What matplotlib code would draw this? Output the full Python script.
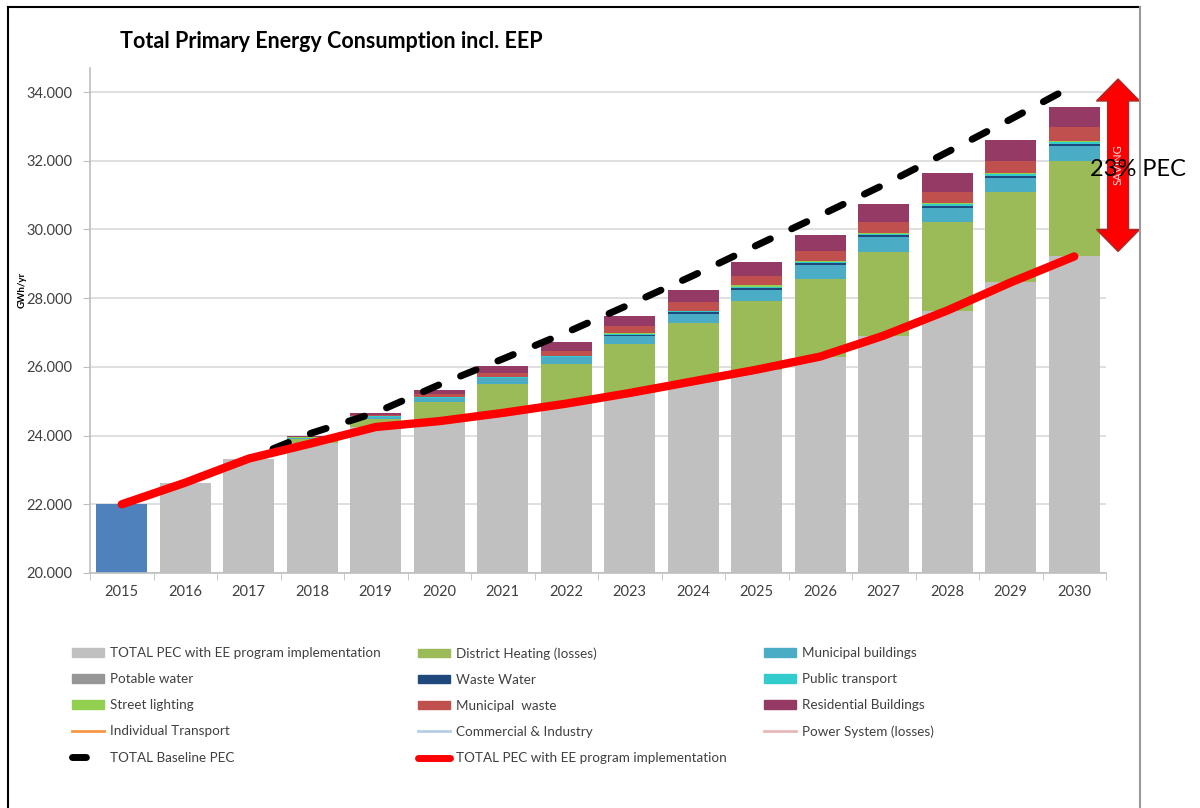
import matplotlib
matplotlib.use('Agg')
import matplotlib.pyplot as plt
import numpy as np
from matplotlib.patches import Patch, Polygon
from matplotlib.lines import Line2D

# ---------------- data ----------------
years = [2015, 2016, 2017, 2018, 2019, 2020, 2021, 2022,
         2023, 2024, 2025, 2026, 2027, 2028, 2029, 2030]
ee_total = [22000, 22630, 23330, 23780, 24250, 24420, 24660, 24930,
            25240, 25580, 25920, 26300, 26910, 27640, 28460, 29215]
district_heating = [0, 0, 0, 120, 230, 560, 850, 1140,
                    1440, 1700, 2010, 2270, 2440, 2580, 2630, 2785]
municipal_buildings = [0, 0, 0, 30, 60, 100, 155, 210,
                       225, 270, 300, 390, 420, 410, 400, 435]
potable_water = [0, 0, 0, 0, 0, 0, 0, 0, 0, 0, 0, 0, 0, 0, 0, 0]
waste_water = [0, 0, 0, 5, 15, 15, 15, 15, 30, 35, 55, 50, 55, 55, 65, 60]
public_transport = [0, 0, 0, 5, 15, 15, 15, 15, 30, 30, 50, 40, 45, 45, 55, 50]
street_lighting = [0, 0, 0, 5, 10, 10, 10, 10, 20, 25, 40, 30, 30, 30, 45, 35]
municipal_waste = [0, 0, 0, 15, 30, 85, 117, 155, 195, 255, 270, 290, 310, 345, 350, 400]
residential = [0, 0, 0, 20, 50, 115, 195, 262, 310, 340, 410, 480, 530, 540, 590, 585]
baseline = [22000, 22630, 23330, 24080, 24670, 25480, 26230, 27000,
            27820, 28660, 29540, 30410, 31300, 32250, 33210, 34200]
arrow_top, arrow_bottom = 34380, 29360
saving_text = "SAVING"
saving_label = "23% PEC"
title = "Total Primary Energy Consumption incl. EEP"
y_ticks = [20000, 22000, 24000, 26000, 28000, 30000, 32000, 34000]
y_tick_labels = ["20.000", "22.000", "24.000", "26.000", "28.000", "30.000", "32.000", "34.000"]

# ---------------- style ----------------
plt.rcParams['font.family'] = ['Lato', 'DejaVu Sans']
txt_col = '#404040'

fig = plt.figure(figsize=(12, 8.08), dpi=100)
W, H = 1200, 808
ax = fig.add_axes([90 / W, 1 - 573 / H, (1106 - 90) / W, (573 - 68) / H])

x = np.arange(len(years))
bw = 0.8
bar_colors = ['#4F81BD'] + ['#C0C0C0'] * (len(years) - 1)
ax.bar(x, ee_total, width=bw, color=bar_colors, zorder=2)

bottom = np.array(ee_total, dtype=float)
stack = [
    (district_heating, '#9BBB59'),
    (municipal_buildings, '#4BACC6'),
    (potable_water, '#969696'),
    (waste_water, '#1F497D'),
    (public_transport, '#33CCCC'),
    (street_lighting, '#92D050'),
    (municipal_waste, '#C0504D'),
    (residential, '#953A64'),
]
for vals, c in stack:
    v = np.array(vals, dtype=float)
    ax.bar(x, v, bottom=bottom, width=bw, color=c, zorder=2)
    bottom += v

ax.plot(x, baseline, color='black', lw=5, dashes=(2.4, 3.4),
        dash_capstyle='round', zorder=4)
ax.plot(x, ee_total, color='#FF0000', lw=6, solid_capstyle='round',
        solid_joinstyle='round', zorder=5)

ax.set_xlim(-0.5, len(years) - 0.5)
ax.set_ylim(20000, 34700)
ax.set_yticks(y_ticks)
ax.set_yticklabels(y_tick_labels, fontsize=10.5, color=txt_col)
ax.set_xticks(x)
ax.set_xticklabels([str(y) for y in years], fontsize=10.5, color=txt_col)
ax.set_xticks(np.arange(-0.5, len(years), 1.0), minor=True)
ax.tick_params(axis='x', which='major', length=0, pad=9)
ax.tick_params(axis='x', which='minor', length=5, color='#BFBFBF', direction='out')
ax.tick_params(axis='y', length=5, color='#BFBFBF', pad=8)
for s in ['top', 'right']:
    ax.spines[s].set_visible(False)
for s in ['left', 'bottom']:
    ax.spines[s].set_color('#BFBFBF')
    ax.spines[s].set_linewidth(1.2)
ax.yaxis.grid(True, color='#D9D9D9', lw=1.2, zorder=0)
ax.set_axisbelow(True)

# saving arrow (data coords, outside the plot area)
x0 = len(years) - 0.5 + 0.19
hw, sw, hl = 0.34, 0.165, 640
pts = [(x0, arrow_top), (x0 + hw, arrow_top - hl), (x0 + sw, arrow_top - hl),
       (x0 + sw, arrow_bottom + hl), (x0 + hw, arrow_bottom + hl), (x0, arrow_bottom),
       (x0 - hw, arrow_bottom + hl), (x0 - sw, arrow_bottom + hl),
       (x0 - sw, arrow_top - hl), (x0 - hw, arrow_top - hl)]
arrow = Polygon(pts, closed=True, facecolor='#FF0000', edgecolor='#A52A2A',
                lw=1, clip_on=False, zorder=6)
ax.add_patch(arrow)
ax.text(x0, 31900, saving_text, rotation=90, color='#FFE0E0', fontsize=8,
        ha='center', va='center', clip_on=False, zorder=7)
ax.text(15.25, 31750, saving_label, color='black', fontsize=17,
        ha='left', va='center', clip_on=False, zorder=8)

# title & y label
fig.text(120 / W, 1 - 41 / H, title, fontsize=15.5, fontweight='bold',
         color='black', ha='left', va='center')
fig.text(22 / W, 1 - 290 / H, 'GWh/yr', rotation=90, fontsize=7,
         fontweight='bold', color='black', ha='center', va='center')

# legend (three columns)
col1 = [Patch(color='#C0C0C0', label='TOTAL PEC with EE program implementation'),
        Patch(color='#969696', label='Potable water'),
        Patch(color='#92D050', label='Street lighting'),
        Line2D([], [], color='#F79646', lw=2, label='Individual Transport'),
        Line2D([], [], color='black', lw=5, dashes=(2.0, 8), dash_capstyle='round',
               label='TOTAL Baseline PEC')]
col2 = [Patch(color='#9BBB59', label='District Heating (losses)'),
        Patch(color='#1F497D', label='Waste Water'),
        Patch(color='#C0504D', label='Municipal  waste'),
        Line2D([], [], color='#B9CDE5', lw=2, label='Commercial & Industry'),
        Line2D([], [], color='#FF0000', lw=5, solid_capstyle='round',
               label='TOTAL PEC with EE program implementation')]
col3 = [Patch(color='#4BACC6', label='Municipal buildings'),
        Patch(color='#33CCCC', label='Public transport'),
        Patch(color='#953A64', label='Residential Buildings'),
        Line2D([], [], color='#E6B9B8', lw=2, label='Power System (losses)')]
for handles, xpos in [(col1, 72), (col2, 418), (col3, 764)]:
    lg = fig.legend(handles=handles, loc='upper left',
                    bbox_to_anchor=(xpos / W, 1 - 647 / H), frameon=False,
                    fontsize=9.7, handlelength=2.35, handleheight=0.6,
                    handletextpad=0.45, labelspacing=1.05, borderpad=0,
                    borderaxespad=0)
    for t in lg.get_texts():
        t.set_color(txt_col)

# outer frame
fig.add_artist(Line2D([8 / W, 8 / W], [0, 1 - 7 / H], color='black', lw=1.5,
                      transform=fig.transFigure))
fig.add_artist(Line2D([8 / W, 1140 / W], [1 - 7 / H, 1 - 7 / H], color='black', lw=1.5,
                      transform=fig.transFigure))
fig.add_artist(Line2D([1140 / W, 1140 / W], [0, 1 - 7 / H], color='#999999', lw=1.5,
                      transform=fig.transFigure))

fig.savefig('out.png', dpi=100, facecolor='white')
